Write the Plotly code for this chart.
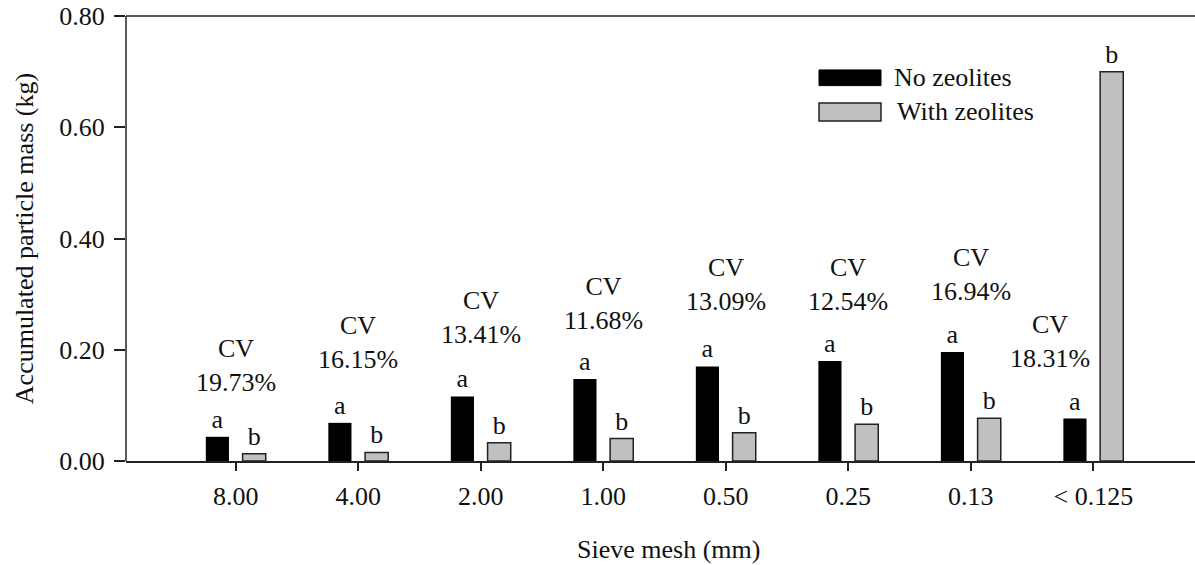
import plotly.graph_objects as go

# Sieve fractions and accumulated particle mass (kg)
sieve_mesh = ["8.00", "4.00", "2.00", "1.00", "0.50", "0.25", "0.13", "< 0.125"]
no_zeolites = [0.0435, 0.0686, 0.116, 0.1476, 0.170, 0.180, 0.196, 0.0763]
with_zeolites = [0.013, 0.0153, 0.0327, 0.0404, 0.0506, 0.066, 0.0769, 0.700]
letters_no = ["a"] * 8
letters_with = ["b"] * 8
cv_percent = [19.73, 16.15, 13.41, 11.68, 13.09, 12.54, 16.94, 18.31]

# Placement of the CV labels (category shift, height in kg)
cv_shift = [0, 0, 0, 0, 0, 0, 0, -0.35]
cv_height = [0.1715, 0.2137, 0.2577, 0.2837, 0.3178, 0.3178, 0.3349, 0.2146]

W, H = 1195, 565
ML, MR, MT, MB = 126, 0, 16, 103.5
PW, PH = W - ML - MR, H - MT - MB

FONT = "Liberation Serif, Times New Roman, serif"
FS = 26
INK = "#111111"
AXIS = "#222222"


def px_x(x):
    return (x - ML) / PW


def px_y(y):
    return (H - MB - y) / PH


fig = go.Figure()
fig.add_trace(go.Bar(
    x=sieve_mesh, y=no_zeolites, name="No zeolites",
    marker=dict(color="#000000", line=dict(color="#000000", width=0)),
    text=letters_no, textposition="outside", constraintext="none",
    textfont=dict(family=FONT, size=FS, color=INK), cliponaxis=False,
    showlegend=False,
))
fig.add_trace(go.Bar(
    x=sieve_mesh, y=with_zeolites, name="With zeolites",
    marker=dict(color="#c0c0c0", line=dict(color="#222222", width=1.5)),
    text=letters_with, textposition="outside", constraintext="none",
    textfont=dict(family=FONT, size=FS, color=INK), cliponaxis=False,
    showlegend=False,
))

annotations = []
for i, cv in enumerate(cv_percent):
    annotations.append(dict(
        x=i + cv_shift[i], y=cv_height[i], xref="x", yref="y",
        text=f"CV<br>{cv:.2f}%", showarrow=False, align="center",
        font=dict(family=FONT, size=FS, color=INK),
        xanchor="center", yanchor="middle",
    ))

# Legend swatches, plus the left and top frame lines of the plot area
shapes = [
    dict(type="rect", xref="paper", yref="paper",
         x0=px_x(819), x1=px_x(881), y0=px_y(85.7), y1=px_y(70),
         fillcolor="#000000", line=dict(color="#000000", width=1)),
    dict(type="rect", xref="paper", yref="paper",
         x0=px_x(819), x1=px_x(881), y0=px_y(121), y1=px_y(103),
         fillcolor="#c0c0c0", line=dict(color="#222222", width=1.5)),
    dict(type="line", xref="paper", yref="paper",
         x0=0, x1=1, y0=1, y1=1, line=dict(color=AXIS, width=1.5)),
    dict(type="line", xref="paper", yref="paper",
         x0=0, x1=0, y0=0, y1=1, line=dict(color=AXIS, width=1.5)),
]
annotations += [
    dict(x=px_x(892), y=px_y(78), xref="paper", yref="paper", text="No zeolites",
         showarrow=False, xanchor="left", yanchor="middle",
         font=dict(family=FONT, size=FS, color=INK)),
    dict(x=px_x(895), y=px_y(112), xref="paper", yref="paper", text="With zeolites",
         showarrow=False, xanchor="left", yanchor="middle",
         font=dict(family=FONT, size=FS, color=INK)),
    dict(x=px_x(668), y=px_y(550), xref="paper", yref="paper", text="Sieve mesh (mm)",
         showarrow=False, xanchor="center", yanchor="middle",
         font=dict(family=FONT, size=FS, color=INK)),
]

fig.update_layout(
    width=W, height=H,
    margin=dict(l=ML, r=MR, t=MT, b=MB, pad=0, autoexpand=False),
    paper_bgcolor="white", plot_bgcolor="white",
    barmode="group", bargap=0.4, bargroupgap=0.37,
    font=dict(family=FONT, size=FS, color=INK),
    annotations=annotations, shapes=shapes,
    showlegend=False,
)
fig.update_xaxes(
    type="category", range=[-0.896, 7.83], automargin=False,
    showline=True, linecolor=AXIS, linewidth=1.5, mirror=False,
    ticks="outside", ticklen=8, tickwidth=1.5, tickcolor=AXIS,
    ticklabelstandoff=3,
    showgrid=False, zeroline=False,
    tickfont=dict(family=FONT, size=FS, color=INK),
)
fig.update_yaxes(
    range=[0, 0.8], dtick=0.2, tickformat=".2f", automargin=False,
    showline=False, mirror=False,
    ticks="outside", ticklen=11, tickwidth=1.5, tickcolor=AXIS,
    ticklabelstandoff=4,
    showgrid=False, zeroline=False,
    tickfont=dict(family=FONT, size=FS, color=INK),
    title=dict(text="Accumulated particle mass (kg)", standoff=18,
               font=dict(family=FONT, size=FS, color=INK)),
)

fig.write_html("out.html")
